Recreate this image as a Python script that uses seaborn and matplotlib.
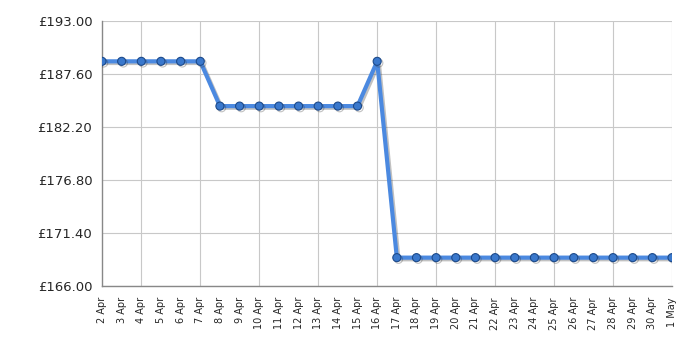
import matplotlib
matplotlib.use("Agg")
import matplotlib.pyplot as plt
import matplotlib.patheffects as pe
import seaborn as sns
import pandas as pd

dates = ["2 Apr", "3 Apr", "4 Apr", "5 Apr", "6 Apr", "7 Apr", "8 Apr", "9 Apr",
         "10 Apr", "11 Apr", "12 Apr", "13 Apr", "14 Apr", "15 Apr", "16 Apr",
         "17 Apr", "18 Apr", "19 Apr", "20 Apr", "21 Apr", "22 Apr", "23 Apr",
         "24 Apr", "25 Apr", "26 Apr", "27 Apr", "28 Apr", "29 Apr", "30 Apr", "1 May"]
prices = [188.89, 188.89, 188.89, 188.89, 188.89, 188.89,
          184.33, 184.33, 184.33, 184.33, 184.33, 184.33, 184.33, 184.33,
          188.89,
          168.89, 168.89, 168.89, 168.89, 168.89, 168.89, 168.89, 168.89,
          168.89, 168.89, 168.89, 168.89, 168.89, 168.89, 168.89]
y_ticks = [166.00, 171.40, 176.80, 182.20, 187.60, 193.00]
y_labels = ["£166.00", "£171.40", "£176.80", "£182.20", "£187.60", "£193.00"]

sns.set_style("white")
plt.rcParams["font.family"] = ["DejaVu Sans"]

df = pd.DataFrame({"date": dates, "price": prices})
fig = plt.figure(figsize=(7, 3.5), dpi=100)
ax = fig.add_axes([102/700, 1 - 286/350, 570/700, 265/350])

sns.lineplot(data=df, x="date", y="price", sort=False, ax=ax,
             color="#4b89e0", linewidth=3, marker="o", markersize=5.8,
             markerfacecolor="#3a78cc", markeredgecolor="#1d4a8a", markeredgewidth=0.8,
             path_effects=[pe.SimpleLineShadow(offset=(1.2, -1.2), shadow_color="#333333", alpha=0.3),
                           pe.Normal()], zorder=5)

n = len(dates)
ax.set_xlim(0, n - 1)
ax.set_ylim(y_ticks[0], y_ticks[-1])
major = list(range(2, n, 3))
minor = [i for i in range(n) if i not in major]
ax.set_xticks(major)
ax.set_xticklabels([dates[i] for i in major], rotation=90, fontsize=7)
ax.set_xticks(minor, minor=True)
ax.set_xticklabels([dates[i] for i in minor], minor=True, rotation=90, fontsize=7)
ax.tick_params(axis="x", which="major", length=5, width=1, color="#333333", pad=3)
ax.tick_params(axis="x", which="minor", length=0, pad=8)
ax.set_yticks(y_ticks)
ax.set_yticklabels(y_labels, fontsize=9.5)
ax.tick_params(axis="y", length=5, width=1, color="#333333", pad=2)

ax.grid(True, which="major", color="#c8c8c8", linewidth=0.8)
ax.set_axisbelow(True)
for s in ["top", "right"]:
    ax.spines[s].set_visible(False)
for s in ["left", "bottom"]:
    ax.spines[s].set_color("#888888")
    ax.spines[s].set_linewidth(1)
ax.set_xlabel("")
ax.set_ylabel("")

fig.savefig("out.png", dpi=100)
